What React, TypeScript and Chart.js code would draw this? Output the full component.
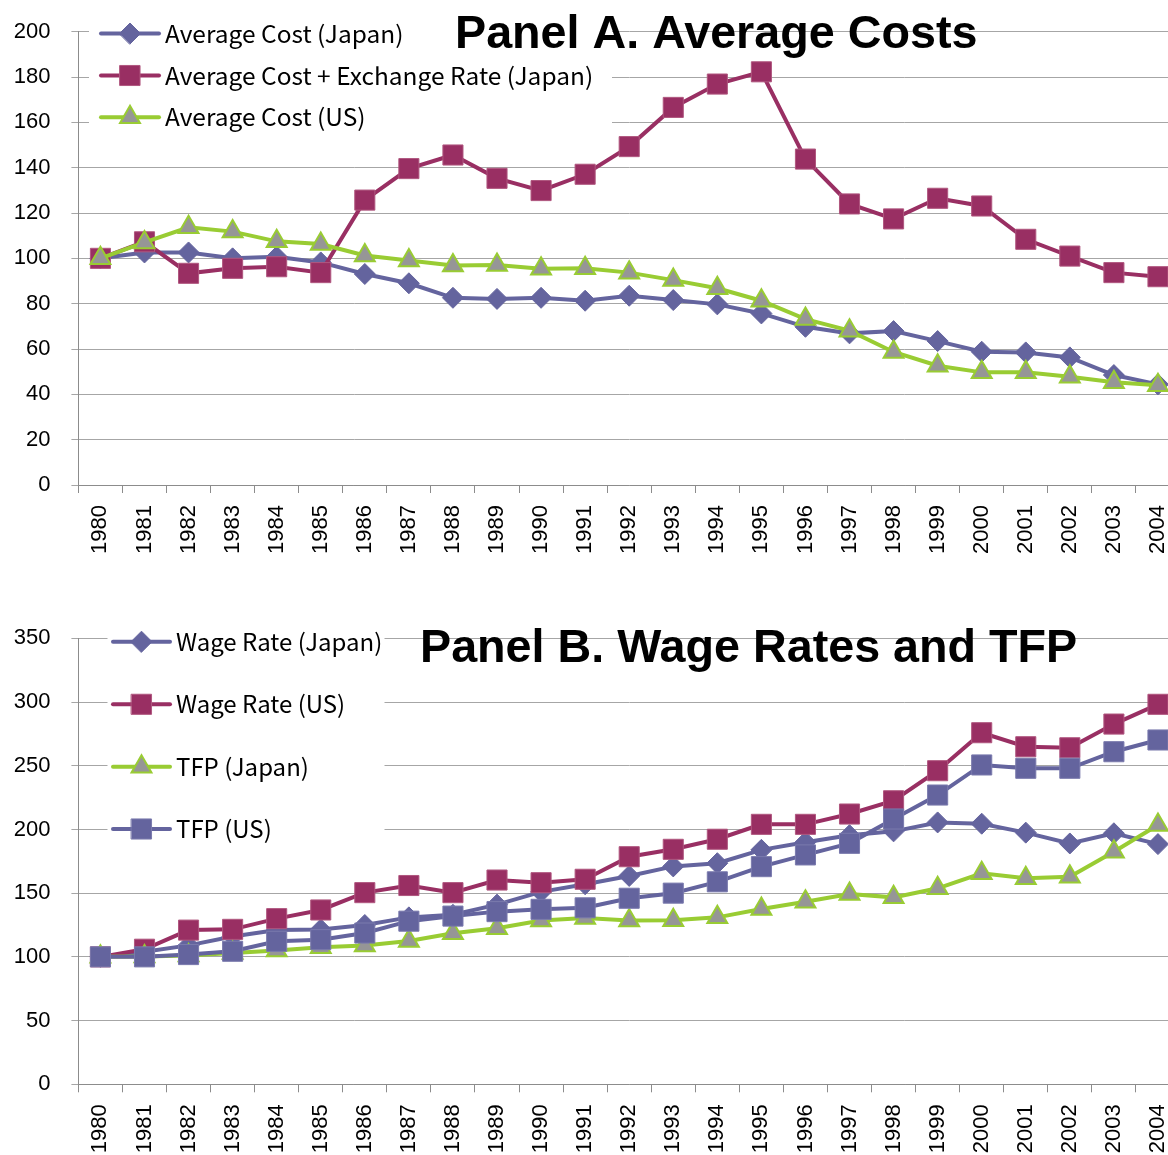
import React, { useEffect, useRef } from 'react';
import { Chart, registerables } from 'chart.js';
import { drawPoint } from 'chart.js/helpers';

Chart.register(...registerables);

// ---------- data ----------
const years = ['1980','1981','1982','1983','1984','1985','1986','1987','1988','1989','1990','1991','1992','1993','1994','1995','1996','1997','1998','1999','2000','2001','2002','2003','2004'];

const avgCostJapan = [100, 102.6, 102.6, 100, 100.7, 98.2, 93.1, 89, 82.6, 82.1, 82.6, 81.3, 83.5, 81.6, 79.7, 75.7, 69.8, 66.9, 67.9, 63.5, 58.8, 58.5, 56.3, 48.5, 44.4];
const avgCostExJapan = [100, 107.3, 93.4, 95.6, 96.3, 93.7, 125.7, 139.6, 145.6, 135.3, 129.9, 137.1, 149.3, 166.6, 176.9, 182.3, 143.8, 124, 117.4, 126.5, 123.1, 108.4, 101, 93.7, 91.9];
const avgCostUS = [100, 107, 113.7, 111.8, 107.5, 106.3, 101.3, 99.1, 96.8, 97.1, 95.4, 95.6, 93.7, 90.4, 86.8, 81.3, 73.2, 68.1, 58.7, 52.6, 49.7, 49.7, 47.8, 45.3, 44];

const wageJapan = [100, 104, 109, 116, 121, 121.5, 125, 131, 133, 141, 151, 157, 163.5, 171, 173.5, 184, 190, 195.5, 198.5, 205.5, 204.5, 197.5, 189, 197, 188.5];
const wageUS = [100, 106, 121, 121.6, 130, 136.8, 150.4, 156, 150.4, 160.3, 158.2, 160.9, 178.6, 184.4, 192.3, 204, 204, 212.1, 222.5, 246.1, 275.9, 264.9, 264.1, 282.7, 298.2];
const tfpJapan = [100, 100.3, 101, 103, 105, 107.5, 109, 112.5, 118.5, 122.5, 128.5, 130.5, 128.5, 128.8, 131, 137.6, 143.3, 149.3, 146.7, 153.8, 165.6, 161.7, 162.9, 182.5, 203.5];
const tfpUS = [100, 100, 101.8, 104.4, 112.2, 113.5, 118.7, 128, 132, 135.5, 137.3, 138.5, 146, 150, 158.9, 170.8, 180, 189.1, 208.2, 227, 250.6, 248, 248, 261, 270.2];

const panelATitle = 'Panel A. Average Costs';
const panelBTitle = 'Panel B. Wage Rates and TFP';
const panelALabels = ['Average Cost (Japan)', 'Average Cost + Exchange Rate (Japan)', 'Average Cost (US)'];
const panelBLabels = ['Wage Rate (Japan)', 'Wage Rate (US)', 'TFP (Japan)', 'TFP (US)'];
const panelATicks = { min: 0, max: 200, step: 20 };
const panelBTicks = { min: 0, max: 350, step: 50 };

// ---------- styles ----------
const PURPLE = '#64649E';
const MAGENTA = '#992F63';
const GREEN = '#99CC33';
const GRAY = '#969696';

type Marker = 'diamond' | 'square' | 'triangle';

function seriesStyle(kind: Marker, color: string) {
  if (kind === 'diamond') {
    return { borderColor: color, pointStyle: 'rectRot', pointRadius: 10.5, pointBackgroundColor: color, pointBorderColor: color, pointBorderWidth: 1 };
  }
  if (kind === 'square') {
    return { borderColor: color, pointStyle: 'rect', pointRadius: 14.2, pointBackgroundColor: color, pointBorderColor: color === MAGENTA ? '#b0577f' : '#7a7aad', pointBorderWidth: 1 };
  }
  return { borderColor: GREEN, pointStyle: 'triangle', pointRadius: 11.5, pointBackgroundColor: GRAY, pointBorderColor: GREEN, pointBorderWidth: 2 };
}

function makeDatasets(labels: string[], values: number[][], kinds: Marker[], colors: string[]) {
  const n = labels.length;
  return labels.map((label, i) => ({
    label,
    data: values[i],
    borderWidth: 4,
    tension: 0,
    fill: false,
    clip: false,
    order: n - 1 - i,
    pointHoverRadius: 0,
    ...seriesStyle(kinds[i], colors[i]),
  }));
}

const overlayPlugin = {
  id: 'overlay',
  beforeDatasetsDraw(chart: any, _args: any, opts: any) {
    const ctx = chart.ctx as CanvasRenderingContext2D;
    ctx.save();
    ctx.fillStyle = '#ffffff';
    ctx.fillRect(opts.box.x, opts.box.y, opts.box.w, opts.box.h);

    chart.data.datasets.forEach((ds: any, i: number) => {
      const y = opts.rowY[i];
      ctx.strokeStyle = ds.borderColor;
      ctx.lineWidth = ds.borderWidth;
      ctx.lineCap = 'round';
      ctx.beginPath();
      ctx.moveTo(opts.lineX0, y);
      ctx.lineTo(opts.lineX1, y);
      ctx.stroke();
      ctx.fillStyle = ds.pointBackgroundColor;
      ctx.strokeStyle = ds.pointBorderColor;
      ctx.lineWidth = ds.pointBorderWidth;
      drawPoint(ctx, { pointStyle: ds.pointStyle, radius: ds.pointRadius, borderWidth: ds.pointBorderWidth, rotation: 0 } as any, (opts.lineX0 + opts.lineX1) / 2, y);
      ctx.fillStyle = '#000000';
      ctx.font = opts.legendFont;
      ctx.textAlign = 'left';
      ctx.textBaseline = 'alphabetic';
      ctx.save();
      ctx.translate(opts.textX, y + opts.textDy);
      ctx.scale(opts.legendScaleX, 1);
      ctx.fillText(ds.label, 0, 0);
      ctx.restore();
    });

    ctx.fillStyle = '#000000';
    ctx.font = opts.titleFont;
    ctx.textAlign = 'left';
    ctx.textBaseline = 'alphabetic';
    ctx.fillText(opts.title, opts.titleX, opts.titleY);
    ctx.restore();
  },
};

const TICK_FONT = "'Liberation Sans', Arial, sans-serif";

function makeConfig(p: {
  datasets: any[];
  ticks: { min: number; max: number; step: number };
  padTop: number;
  xAxisHeight: number;
  overlay: any;
}) {
  return {
    type: 'line' as const,
    data: { labels: years, datasets: p.datasets },
    options: {
      responsive: false,
      animation: false as const,
      devicePixelRatio: 1,
      events: [],
      layout: { autoPadding: false, padding: { top: p.padTop, right: 0, bottom: 0, left: 0 } },
      plugins: {
        legend: { display: false },
        title: { display: false },
        tooltip: { enabled: false },
        overlay: p.overlay,
      },
      scales: {
        x: {
          type: 'category',
          offset: true,
          grid: { offset: true, drawOnChartArea: false, drawTicks: true, tickLength: 8, color: '#8c8c8c', lineWidth: 1 },
          border: { display: true, color: '#8c8c8c', width: 1 },
          ticks: {
            autoSkip: false,
            minRotation: 90,
            maxRotation: 90,
            padding: 12,
            color: '#000000',
            font: { family: TICK_FONT, size: 22 },
          },
          afterFit: (s: any) => { s.height = p.xAxisHeight; s.paddingLeft = 0; s.paddingRight = 0; },
        },
        y: {
          type: 'linear',
          min: p.ticks.min,
          max: p.ticks.max,
          ticks: { stepSize: p.ticks.step, padding: 21, color: '#000000', font: { family: TICK_FONT, size: 22 } },
          grid: { color: '#a6a6a6', lineWidth: 1, tickLength: 7, drawTicks: true },
          border: { display: true, color: '#8c8c8c', width: 1 },
          afterFit: (s: any) => { s.width = 78.4; s.paddingTop = 0; s.paddingBottom = 0; },
        },
      },
    },
    plugins: [overlayPlugin],
  };
}

const LEGEND_FONT = "24px 'Noto Sans CJK JP', 'Noto Sans', sans-serif";
const TITLE_FONT = "bold 46.7px 'Liberation Sans', Arial, sans-serif";

export default function App() {
  const refA = useRef<HTMLCanvasElement | null>(null);
  const refB = useRef<HTMLCanvasElement | null>(null);

  useEffect(() => {
    const dsA = makeDatasets(panelALabels, [avgCostJapan, avgCostExJapan, avgCostUS], ['diamond', 'square', 'triangle'], [PURPLE, MAGENTA, GREEN]);
    const dsB = makeDatasets(panelBLabels, [wageJapan, wageUS, tfpJapan, tfpUS], ['diamond', 'square', 'triangle', 'square'], [PURPLE, MAGENTA, GREEN, PURPLE]);

    const chartA = new Chart(refA.current as HTMLCanvasElement, makeConfig({
      datasets: dsA,
      ticks: panelATicks,
      padTop: 31.7,
      xAxisHeight: 85,
      overlay: {
        box: { x: 89, y: 12, w: 523, h: 138 },
        rowY: [33.5, 75.5, 117.3],
        lineX0: 101, lineX1: 159, textX: 165, textDy: 9, legendScaleX: 1.02,
        legendFont: LEGEND_FONT,
        title: panelATitle, titleX: 455, titleY: 48.3, titleFont: TITLE_FONT,
      },
    }) as any);

    const chartB = new Chart(refB.current as HTMLCanvasElement, makeConfig({
      datasets: dsB,
      ticks: panelBTicks,
      padTop: 68.3,
      xAxisHeight: 70.7,
      overlay: {
        box: { x: 107.5, y: 50, w: 277, h: 240 },
        rowY: [71.7, 134.3, 196.7, 259],
        lineX0: 113, lineX1: 170, textX: 176, textDy: 9, legendScaleX: 1.0,
        legendFont: LEGEND_FONT,
        title: panelBTitle, titleX: 420, titleY: 91.7, titleFont: TITLE_FONT,
      },
    }) as any);

    return () => { chartA.destroy(); chartB.destroy(); };
  }, []);

  return (
    <div style={{ position: 'fixed', left: 0, top: 0, width: 1168, height: 1155, overflow: 'hidden', background: '#ffffff' }}>
      <canvas ref={refA} width={1180} height={570} style={{ position: 'absolute', left: 0, top: 0, width: 1180, height: 570 }} />
      <canvas ref={refB} width={1180} height={585} style={{ position: 'absolute', left: 0, top: 570, width: 1180, height: 585 }} />
    </div>
  );
}
